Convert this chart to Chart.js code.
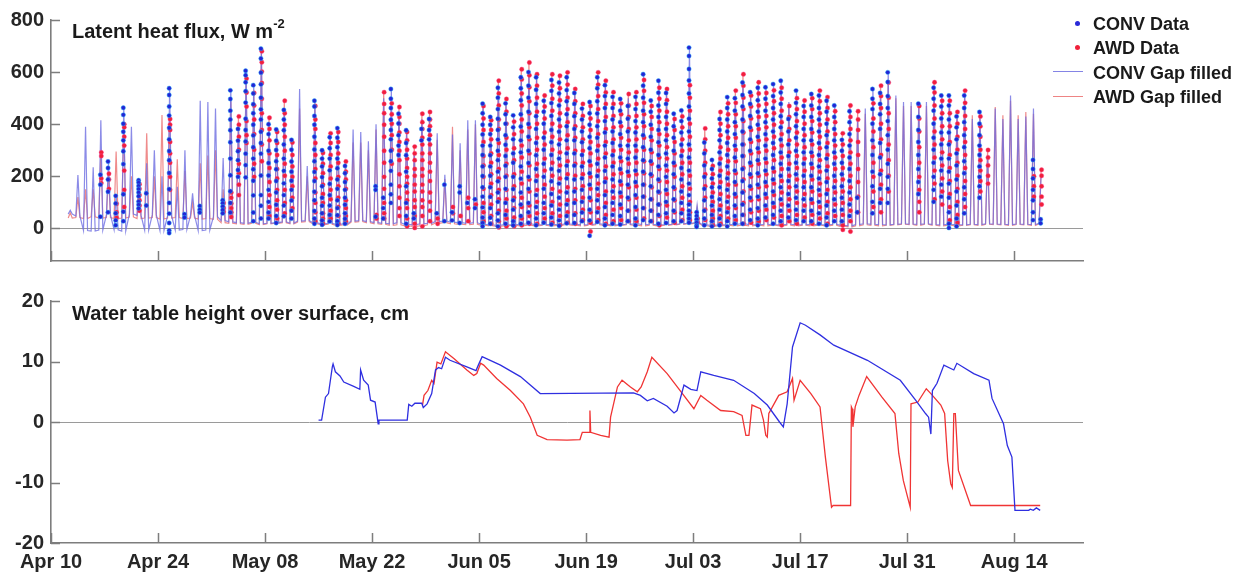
<!DOCTYPE html>
<html>
<head>
<meta charset="utf-8">
<script src="https://cdn.jsdelivr.net/npm/chart.js@4.4.1/dist/chart.umd.min.js"></script>
<style>
  body { margin: 0; background: #fff; font-family: "Liberation Sans", Arial, sans-serif; }
  #wrap { position: relative; width: 1244px; height: 578px; overflow: hidden; }
  canvas { position: absolute; left: 0; }
  .ttl { position: absolute; left: 72px; font-weight: bold; font-size: 20px; line-height: 20px; color: #1a1a1a; white-space: nowrap; }
  .ttl sup { font-size: 13px; position: relative; top: -2px; }
  .lg { position: absolute; left: 1093px; font-weight: bold; font-size: 18px; line-height: 18px; color: #1a1a1a; white-space: nowrap; }
  .mk { position: absolute; width: 5px; height: 5px; border-radius: 50%; }
  .ln { position: absolute; left: 1053px; width: 30px; height: 1px; }
</style>
</head>
<body>
<div id="wrap">
  <canvas id="flux" width="1244" height="280" style="top:0"></canvas>
  <canvas id="wt" width="1244" height="298" style="top:280px"></canvas>

  <div class="ttl" style="top:16px">Latent heat flux, W m<sup>-2</sup></div>
  <div class="ttl" style="top:303px">Water table height over surface, cm</div>

  <div class="mk" style="left:1075px;top:21px;background:#2a2ad8"></div>
  <div class="lg" style="top:15px">CONV Data</div>
  <div class="mk" style="left:1075px;top:45px;background:#f0203a"></div>
  <div class="lg" style="top:39px">AWD Data</div>
  <div class="ln" style="top:71px;background:rgba(110,110,225,0.85)"></div>
  <div class="lg" style="top:64px">CONV Gap filled</div>
  <div class="ln" style="top:96px;background:rgba(235,110,110,0.85)"></div>
  <div class="lg" style="top:88px">AWD Gap filled</div>
</div>

<script>
// x axis: days since Apr 10
const xTickDays = [0, 14, 28, 42, 56, 70, 84, 98, 112, 126];
const xTickLabels = ['Apr 10', 'Apr 24', 'May 08', 'May 22', 'Jun 05', 'Jun 19', 'Jul 03', 'Jul 17', 'Jul 31', 'Aug 14'];
const fluxTicks = [0, 200, 400, 600, 800];
const wtTicks = [-20, -10, 0, 10, 20];

// gap filled latent heat flux: midday peak and night level per day
const convPeak = [
  null, null, 70, 205, 390, 235, 415, 255, 130, 470,
  390, 185, 250, 300, 200, 535, 160, 300, 135, 490,
  485, 460, 270, 535, 390, 610, 550, 690, 400, 380,
  455, 340, 535, 240, 490, 300, 350, 385, 240, 380,
  370, 335, 400, 500, 535, 440, 377, 290, 420, 420,
  365, 206, 360, 327, 415, 415, 479, 428, 540, 480,
  434, 580, 600, 580, 490, 570, 560, 580, 520, 460,
  485, 580, 550, 505, 497, 500, 505, 592, 491, 567,
  520, 440, 453, 694, 90, 330, 263, 420, 504, 500,
  560, 523, 540, 542, 554, 567, 485, 529, 470, 516,
  510, 490, 472, 340, 450, 420, 460, 535, 520, 599,
  510, 485, 485, 479, 485, 540, 510, 510, 430, 510,
  420, 447, 280, 460, 420, 510, 420, 430, 460, 200
];
const awdPeak = [
  null, null, 60, 120, 150, 150, 295, 210, 295, 400,
  200, 170, 365, 200, 435, 420, 265, 220, 100, 250,
  280, 300, 150, 500, 430, 580, 520, 680, 425, 370,
  490, 330, 460, 200, 470, 290, 365, 370, 257, 330,
  330, 300, 380, 523, 480, 466, 370, 314, 440, 447,
  340, 190, 390, 300, 380, 400, 470, 415, 567, 497,
  410, 611, 637, 592, 510, 592, 586, 599, 535, 478,
  470, 599, 567, 523, 480, 516, 523, 570, 470, 540,
  535, 420, 430, 550, 80, 384, 240, 447, 480, 529,
  592, 510, 561, 520, 530, 540, 470, 500, 491, 500,
  529, 504, 450, 365, 472, 450, 440, 500, 548, 560,
  500, 470, 470, 470, 470, 561, 490, 490, 447, 529,
  434, 430, 301, 466, 434, 490, 434, 447, 440, 225
];
const convBase = [
  null, null, 55, 48, -8, -10, -6, 52, -5, -10,
  55, 50, -6, 52, -8, 48, -6, -4, 50, -8,
  -6, 45, 30, 25, 22, 20, 24, 18, 20, 22,
  25, 20, 28, 30, 22, 18, 20, 16, 18, 28,
  30, 26, 22, 20, 18, 22, 16, 14, 18, 20,
  26, 28, 24, 22, 20, 22, 16, 14, 12, 15,
  14, 16, 18, 15, 14, 16, 15, 18, 16, 14,
  15, 18, 16, 14, 15, 16, 18, 15, 16, 14,
  15, 16, 18, 20, 22, 14, 12, 14, 15, 16,
  18, 15, 14, 16, 15, 14, 16, 15, 14, 16,
  15, 14, 16, 12, 10, 15, 18, 16, 15, 14,
  16, 18, 17, 16, 18, 15, 14, 16, 15, 14,
  16, 15, 18, 17, 16, 15, 17, 16, 15, 20
];
const awdBase = [
  null, null, 40, 42, 38, 45, 40, 42, 38, 40,
  44, 38, 40, 42, 36, 40, 42, 38, 40, 36,
  38, 35, 22, 20, 18, 16, 20, 15, 18, 20,
  22, 18, 24, 26, 18, 15, 16, 12, 14, 24,
  26, 22, 18, 16, 12, 14, 10, 8, 10, 14,
  20, 22, 18, 16, 15, 16, 12, 10, 8, 10,
  12, 10, 12, 10, 12, 10, 12, 14, 12, 10,
  12, 14, 12, 10, 12, 14, 12, 10, 12, 10,
  12, 14, 16, 18, 20, 10, 8, 10, 12, 10,
  12, 10, 12, 10, 12, 10, 12, 10, 12, 10,
  12, 10, 12, 8, 6, 10, 14, 12, 10, 12,
  14, 16, 15, 12, 16, 12, 10, 12, 10, 12,
  14, 12, 16, 15, 14, 12, 15, 14, 12, 18
];

// measured half-hourly flux, by day
const convObs = {
  6: [206, 168, 45], 7: [257, 232, 188, 141, 62], 8: [125, 96, 58, 31, 12],
  9: [463, 436, 402, 371, 338, 296, 247, 131, 64, 28],
  11: [185, 176, 163, 151, 138, 124, 103, 91, 77], 12: [135, 88],
  15: [538, 512, 468, 433, 386, 342, 297, 262, 213, 151, 98, 57, 21, -8, -18],
  17: [55, 42], 19: [86, 72, 61], 22: [108, 97, 84, 71, 58],
  23: [530, 497, 452, 418, 377, 331, 268, 204, 143, 98, 61],
  24: [382, 337, 296, 262, 224, 198],
  25: [605, 588, 561, 527, 483, 421, 378, 334, 287, 243, 196],
  26: [550, 518, 477, 442, 398, 357, 312, 268, 227, 183, 127, 61, 28],
  27: [690, 652, 598, 553, 502, 457, 418, 371, 328, 287, 203, 128, 87, 38],
  28: [400, 362, 298, 251, 203, 148, 102, 61, 38],
  29: [380, 337, 301, 258, 227, 182, 138, 91, 48, 21],
  30: [455, 418, 377, 322, 268, 221, 173, 128, 88, 47],
  31: [340, 302, 257, 218, 183, 148, 107, 68, 38],
  34: [490, 468, 432, 398, 352, 303, 258, 217, 182, 141, 108, 67, 38, 18],
  35: [300, 268, 238, 197, 162, 118, 87, 58, 31, 14],
  36: [350, 308, 268, 223, 171, 128, 88, 52, 27],
  37: [385, 348, 312, 268, 231, 188, 152, 108, 78, 51, 28, 13],
  38: [240, 212, 178, 148, 118, 91, 58, 37, 18],
  42: [162, 148, 45], 43: [118, 78, 38],
  44: [535, 498, 462, 417, 378, 342, 298, 258, 221, 168, 131, 98],
  45: [440, 403, 358, 318, 282],
  46: [377, 328, 281, 218, 162, 98, 48, 18],
  47: [58, 38], 48: [382, 338], 49: [420, 378, 342], 50: [58], 51: [168, 28],
  52: [62, 31], 53: [162, 138, 21], 54: [98], 55: [112, 78],
  56: [479, 442, 398, 361, 318, 282, 238, 201, 158, 122, 81, 42, 21, 8],
  57: [428, 398, 362, 318, 281, 238, 202, 158, 121, 78, 41, 18],
  58: [540, 502, 458, 421, 378, 341, 298, 262, 218, 181, 138, 102, 58, 31, 8],
  59: [480, 438, 402, 358, 321, 278, 241, 198, 152, 98, 52, 18],
  60: [434, 388, 342, 288, 252, 198, 151, 108, 72, 28, 12],
  61: [580, 538, 492, 438, 391, 338, 292, 238, 191, 138, 92, 48, 18],
  62: [600, 548, 502, 448, 401, 352, 298, 251, 198, 152, 98, 62, 22],
  63: [580, 532, 478, 431, 382, 328, 281, 228, 182, 128, 82, 38, 12],
  64: [490, 448, 402, 348, 302, 248, 198, 152, 98, 58, 22],
  65: [570, 528, 481, 432, 378, 331, 282, 228, 181, 132, 88, 42, 15],
  66: [560, 518, 472, 418, 371, 322, 268, 221, 172, 118, 72, 31, 10],
  67: [580, 531, 488, 438, 392, 338, 288, 241, 192, 138, 92, 48, 20],
  68: [520, 478, 431, 382, 338, 288, 241, 188, 142, 98, 52, 21],
  69: [460, 418, 372, 331, 282, 238, 192, 148, 102, 61, 28],
  70: [485, 442, 398, 352, 308, 258, 212, 168, 118, 72, 31, -28],
  71: [580, 538, 488, 441, 392, 348, 298, 248, 201, 152, 108, 62, 25],
  72: [550, 508, 462, 412, 368, 318, 272, 221, 178, 128, 82, 38, 12],
  73: [505, 462, 418, 372, 328, 281, 238, 188, 142, 98, 52, 18],
  74: [497, 452, 408, 362, 318, 272, 228, 181, 138, 92, 48, 15],
  75: [470, 421, 372, 318, 268, 218, 168, 118, 68, 28],
  76: [505, 458, 412, 368, 318, 272, 222, 178, 128, 82, 38, 12],
  77: [592, 548, 502, 452, 408, 358, 312, 262, 218, 168, 122, 78, 32],
  78: [491, 448, 398, 352, 302, 258, 208, 162, 112, 68, 28],
  79: [567, 521, 472, 428, 378, 331, 282, 238, 188, 141, 92, 52, 18],
  80: [520, 478, 428, 382, 338, 288, 242, 198, 148, 102, 58, 21],
  81: [440, 392, 348, 298, 252, 208, 158, 112, 68, 28],
  82: [453, 412, 368, 321, 278, 232, 188, 142, 98, 58, 28],
  83: [694, 662, 612, 568, 518, 468, 421, 372, 322, 272, 222, 172, 128, 92, 68, 52, 38, 22],
  84: [62, 48, 35, 22, 12, 6],
  85: [330, 288, 242, 198, 152, 108, 68, 38, 12],
  86: [263, 228, 192, 158, 121, 88, 52, 28, 8],
  87: [420, 378, 338, 292, 248, 202, 158, 112, 72, 38, 12],
  88: [504, 462, 418, 372, 328, 282, 238, 192, 148, 102, 62, 28, 8],
  89: [500, 452, 408, 362, 318, 272, 222, 178, 132, 88, 48, 18],
  90: [560, 512, 468, 418, 372, 322, 278, 228, 182, 138, 92, 52, 18],
  91: [523, 478, 432, 388, 342, 298, 252, 208, 162, 118, 72, 32],
  92: [540, 492, 448, 398, 352, 308, 262, 212, 168, 122, 78, 38, 12],
  93: [542, 498, 452, 408, 362, 318, 268, 222, 178, 132, 88, 42],
  94: [554, 508, 462, 418, 372, 328, 282, 232, 188, 142, 98, 52, 18],
  95: [567, 522, 478, 431, 388, 341, 292, 248, 202, 158, 112, 68, 28],
  96: [420, 372, 322, 278, 228, 182, 132, 88, 42],
  97: [529, 482, 438, 392, 348, 298, 252, 208, 162, 118, 72, 32],
  98: [470, 428, 382, 338, 292, 248, 202, 158, 112, 68, 28],
  99: [516, 472, 428, 382, 338, 292, 248, 202, 158, 112, 68, 28],
  100: [510, 462, 418, 372, 328, 282, 238, 192, 148, 102, 58, 18],
  101: [490, 448, 402, 358, 312, 268, 222, 178, 132, 88, 42, 12],
  102: [472, 428, 382, 338, 292, 248, 202, 158, 112, 68, 28],
  103: [340, 298, 252, 208, 162, 118, 72, 28],
  104: [450, 408, 362, 318, 272, 228, 182, 138, 92, 48],
  105: [118, 62],
  107: [535, 498, 458, 402, 338, 282, 218, 162, 102, 58],
  108: [520, 478, 438, 382, 328, 272, 208, 152, 98],
  109: [599, 562, 508, 462, 412, 358, 302, 248, 198, 152, 98],
  113: [479, 428, 378, 332, 282, 228, 178, 132],
  115: [540, 498, 452, 402, 348, 302, 252, 198, 148, 102],
  116: [510, 468, 422, 368, 322, 268, 222, 168, 122],
  117: [510, 472, 418, 368, 322, 268, 218, 172, 118, 62, 18, 2],
  118: [430, 388, 342, 288, 242, 188, 142, 88, 38, 8],
  119: [510, 462, 408, 358, 312, 258, 212, 158, 112, 58],
  121: [447, 402, 358, 318, 282, 238, 198, 162, 118],
  128: [263, 228, 192, 148, 108, 62, 32],
  129: [35, 20]
};
const awdObs = {
  6: [292, 278, 192, 174], 7: [210, 188, 152], 8: [95, 62, 41],
  9: [400, 388, 352, 318, 222, 148, 82],
  11: [170, 152, 128, 108, 88, 68],
  15: [420, 398, 378, 332, 288, 252, 198, 148],
  22: [98, 78, 64], 23: [138, 118, 96, 78, 62, 44],
  24: [430, 398, 352, 302, 248, 212, 168, 128],
  25: [575, 522, 468, 412, 358, 328],
  26: [520, 472, 418, 362, 302, 248, 198],
  27: [680, 638, 602, 558, 498, 442, 378, 322, 258],
  28: [425, 382, 338, 288, 232, 178, 128, 82, 48],
  29: [370, 328, 282, 228, 192, 148, 108, 72, 38],
  30: [490, 442, 398, 352, 298, 248, 202, 148, 98, 58],
  31: [330, 282, 238, 198, 162, 118, 78],
  34: [470, 418, 382, 328, 282, 228, 192, 138, 98, 62, 28],
  35: [290, 248, 212, 168, 132, 98, 58, 38, 18],
  36: [365, 328, 282, 238, 192, 148, 112, 68, 38],
  37: [370, 332, 288, 252, 198, 162, 118, 82, 48, 18],
  38: [257, 218, 188, 152, 108, 78, 48, 28],
  42: [52, 38],
  43: [523, 478, 442, 398, 352, 298, 252, 198, 152, 98, 58, 38],
  44: [480, 438, 402, 358, 302, 248],
  45: [466, 428, 402, 368, 332, 298, 262, 208, 162, 118, 78, 48],
  46: [370, 338, 302, 268, 232, 198, 172, 138, 108, 78, 38, 8],
  47: [314, 288, 262, 228, 202, 168, 142, 108, 82, 48, 18, 2],
  48: [440, 408, 382, 348, 322, 288, 262, 228, 202, 168, 142, 108, 82, 48, 8],
  49: [447, 418, 392, 358, 322, 288, 252, 218, 182, 138, 102, 68, 28],
  50: [38, 18], 52: [82, 58], 53: [48], 54: [118, 78, 28], 55: [92],
  56: [470, 422, 378, 332, 278, 242, 198, 152, 98, 62, 28],
  57: [415, 378, 342, 288, 252, 208, 172, 128, 92, 48, 18],
  58: [567, 518, 472, 418, 382, 328, 282, 228, 192, 148, 112, 68, 28, 4],
  59: [497, 448, 402, 348, 302, 248, 202, 148, 112, 68, 38, 8],
  60: [410, 362, 308, 262, 208, 162, 118, 78, 42, 8],
  61: [611, 572, 518, 472, 418, 372, 318, 272, 218, 172, 118, 82, 38, 12],
  62: [637, 588, 542, 488, 442, 388, 342, 288, 242, 188, 142, 88, 48, 18],
  63: [592, 548, 502, 448, 402, 348, 302, 248, 202, 148, 102, 58, 18],
  64: [510, 468, 422, 368, 322, 268, 222, 168, 122, 78, 38],
  65: [592, 548, 498, 452, 402, 352, 302, 252, 202, 152, 102, 58, 22],
  66: [586, 538, 492, 442, 392, 342, 292, 242, 192, 142, 92, 48, 12],
  67: [599, 552, 502, 458, 408, 358, 308, 258, 208, 158, 108, 62, 22],
  68: [535, 488, 442, 392, 348, 298, 248, 202, 152, 108, 58, 18],
  69: [478, 432, 388, 342, 298, 252, 208, 162, 118, 72, 32],
  70: [470, 422, 378, 332, 288, 242, 198, 152, 108, 62, 22, -12],
  71: [599, 552, 508, 458, 412, 362, 318, 268, 222, 172, 128, 78, 32],
  72: [567, 522, 478, 428, 382, 332, 288, 238, 192, 142, 98, 52, 18],
  73: [523, 478, 432, 388, 342, 298, 252, 208, 162, 118, 72, 28],
  74: [480, 438, 392, 348, 302, 258, 212, 168, 122, 78, 32],
  75: [516, 472, 428, 382, 338, 292, 248, 202, 158, 112, 68, 28],
  76: [523, 478, 432, 388, 342, 298, 252, 208, 162, 118, 72, 28],
  77: [570, 528, 482, 438, 392, 348, 302, 258, 212, 168, 122, 78, 38],
  78: [470, 428, 382, 338, 292, 248, 202, 158, 112, 68, 28],
  79: [540, 498, 452, 408, 362, 318, 272, 228, 182, 138, 92, 48, 12],
  80: [535, 492, 448, 402, 358, 312, 268, 222, 178, 132, 88, 42],
  81: [420, 378, 332, 288, 242, 198, 152, 108, 62, 22],
  82: [430, 388, 342, 298, 252, 208, 162, 118, 72, 32],
  83: [550, 502, 452, 402, 352, 302, 252, 202, 152, 102, 62, 32],
  84: [38, 22],
  85: [384, 342, 298, 252, 208, 162, 118, 72, 32],
  86: [240, 208, 172, 138, 102, 68, 38, 12],
  87: [447, 402, 358, 312, 268, 222, 178, 132, 88, 48, 18],
  88: [480, 438, 392, 348, 302, 258, 212, 168, 122, 78, 38],
  89: [529, 482, 438, 392, 348, 302, 258, 212, 168, 122, 78, 32],
  90: [592, 548, 502, 458, 412, 368, 322, 278, 232, 188, 142, 98, 52, 18],
  91: [510, 468, 422, 378, 332, 288, 242, 198, 152, 108, 62, 22],
  92: [561, 518, 472, 428, 382, 338, 292, 248, 202, 158, 112, 68, 28],
  93: [520, 478, 432, 388, 342, 298, 252, 208, 162, 118, 72, 32],
  94: [530, 488, 442, 398, 352, 308, 262, 218, 172, 128, 82, 42],
  95: [540, 498, 452, 408, 362, 318, 272, 228, 182, 138, 92, 48, 12],
  96: [470, 428, 382, 338, 292, 248, 202, 158, 112, 68, 28],
  97: [500, 458, 412, 368, 322, 278, 232, 188, 142, 98, 52, 18],
  98: [491, 448, 402, 358, 312, 268, 222, 178, 132, 88, 42],
  99: [500, 458, 412, 368, 322, 278, 232, 188, 142, 98, 52, 18],
  100: [529, 488, 442, 398, 352, 308, 262, 218, 172, 128, 82, 38],
  101: [504, 462, 418, 372, 328, 282, 238, 192, 148, 102, 58, 18],
  102: [450, 408, 362, 318, 272, 228, 182, 138, 92, 48],
  103: [365, 322, 278, 232, 188, 142, 98, 52, 12, -5],
  104: [472, 428, 382, 338, 292, 248, 202, 158, 112, 68, 28, -12],
  105: [450, 418, 378, 332, 282, 228, 178, 122, 62],
  107: [480, 422, 372, 312, 252, 198, 142, 82],
  108: [548, 508, 462, 402, 342, 282, 222, 168, 112, 62],
  109: [560, 502, 442, 382, 322, 262, 202, 142],
  113: [470, 422, 372, 312, 252, 198, 148, 102, 62],
  115: [561, 522, 472, 422, 372, 322, 272, 222, 172, 112],
  116: [490, 442, 392, 342, 292, 242, 192, 142, 92],
  117: [490, 442, 392, 332, 282, 232, 182, 132, 82, 32],
  118: [447, 402, 352, 302, 252, 202, 152, 102, 52, 22],
  119: [529, 482, 432, 382, 332, 282, 232, 182, 132, 82],
  121: [430, 392, 352, 302, 262, 222, 182, 142],
  122: [301, 272, 242, 202, 172],
  128: [200, 162, 122],
  129: [225, 202, 162, 122, 92]
};

// water table height (cm), day and value
const convWtDay = [35.0, 35.4, 35.9, 36.3, 36.8, 36.9, 37.2, 37.8, 38.3, 39.6, 40.4, 40.5, 40.9, 41.5, 41.8, 42.4, 42.8, 42.9, 46.6, 46.8,
  47.2, 47.6, 48.5, 48.7, 49.2, 49.8, 50.3, 50.7, 51.1, 51.6, 52.2, 54.4, 55.6, 55.9, 56.4, 58.8, 61.4, 64.0, 76.2, 77.1,
  78.0, 78.8, 80.6, 81.5, 81.9, 82.8, 83.7, 84.5, 85.0, 86.7, 89.3, 92.0, 93.7, 95.3, 95.8, 96.3, 97.0, 98.0, 98.7, 100.6,
  102.4, 106.8, 111.1, 113.1, 114.4, 114.8, 115.1, 115.3, 115.9, 116.8, 118.1, 118.5, 120.7, 122.7, 123.1, 124.6, 125.1, 125.7, 125.9, 126.1,
  127.9, 128.1, 128.5, 128.9, 129.4];
const convWt = [0.3, 0.3, 4.1, 4.7, 9.1, 9.6, 8.3, 7.6, 6.6, 5.9, 5.4, 8.6, 6.9, 6.1, 3.6, 3.3, -0.3, 0.3, 0.3, 2.9,
  2.6, 3.1, 3.1, 2.4, 3.0, 4.7, 8.6, 9.0, 8.8, 10.7, 10.2, 9.1, 8.5, 9.4, 10.8, 9.4, 7.5, 4.7, 4.8, 4.4,
  3.5, 3.9, 2.6, 1.5, 1.9, 6.1, 5.4, 5.2, 8.3, 7.7, 6.9, 4.7, 2.8, 0.0, -0.8, 3.0, 12.4, 16.4, 16.0, 14.4,
  12.7, 10.2, 6.9, 3.6, 1.4, 0.8, -2.0, 5.2, 6.4, 9.4, 8.6, 9.7, 8.0, 6.9, 3.9, -0.3, -3.9, -5.8, -10.2, -14.6,
  -14.6, -14.4, -14.6, -14.2, -14.6];
const awdWtDay = [48.6, 48.8, 49.3, 49.8, 50.1, 50.5, 51.0, 51.6, 52.7, 54.4, 55.3, 55.7, 56.2, 56.6, 58.3, 60.1, 61.8, 62.7, 63.6, 64.9,
  67.5, 69.2, 69.5, 70.4, 70.5, 70.6, 71.9, 73.0, 73.2, 74.1, 74.7, 75.8, 76.7, 77.2, 78.0, 78.6, 80.6, 82.3, 84.1, 85.0,
  85.8, 87.6, 89.3, 90.4, 90.9, 91.3, 91.7, 92.8, 93.2, 93.5, 93.7, 93.9, 95.2, 96.3, 97.0, 97.2, 98.0, 99.4, 100.6, 101.3,
  102.1, 102.3, 104.6, 104.7, 104.8, 104.9, 105.2, 105.7, 106.7, 108.7, 110.4, 110.9, 111.5, 112.4, 112.5, 113.4, 114.5, 115.1, 116.4, 116.9,
  117.3, 117.7, 117.9, 118.1, 118.3, 118.7, 120.3, 129.4];
const awdWt = [2.8, 4.4, 5.2, 6.9, 6.4, 9.9, 9.6, 11.6, 10.5, 8.6, 7.7, 8.0, 9.7, 9.4, 7.2, 5.2, 3.0, 0.8, -2.2, -2.9,
  -3.0, -2.9, -1.7, -1.7, 1.9, -1.7, -2.2, -2.5, 0.8, 5.8, 6.9, 5.8, 5.0, 5.8, 8.3, 10.7, 8.0, 5.2, 2.2, 4.4,
  3.6, 1.9, 1.7, 1.1, -2.2, -2.2, 2.8, 2.2, 0.3, -2.2, -2.5, 1.4, 4.4, 5.0, 7.2, 3.6, 6.9, 4.7, 2.5, -5.8,
  -14.1, -13.8, -13.8, 2.5, 2.2, -0.8, 2.5, 4.4, 7.5, 4.1, 1.4, -5.2, -9.7, -14.1, 3.0, 3.3, 5.5, 4.7, 2.8, 1.4,
  -6.4, -10.2, -10.8, 1.4, 1.4, -8.0, -13.8, -13.8];

const axisColor = '#7d7d7d';
const tickFont = { family: '"Liberation Sans", Arial, sans-serif', size: 20, weight: 'bold' };

// one daily spike per day: night level, midday peak, night level
function spikes(peak, base) {
  const pts = [];
  const last = peak.length - 1;
  peak.forEach((p, d) => {
    if (p === null) return;
    pts.push({ x: d + 0.25, y: base[d] }, { x: d + 0.52, y: p });
    if (d < last) pts.push({ x: d + 0.78, y: base[d] });
  });
  return pts;
}
function dots(obs, at) {
  const pts = [];
  Object.keys(obs).forEach(k => obs[k].forEach(v => pts.push({ x: +k + at, y: v })));
  return pts;
}
function pairs(xs, ys) {
  return xs.map((x, i) => ({ x: x, y: ys[i] }));
}

// MATLAB style inward ticks
const inTicks = {
  id: 'inTicks',
  afterDraw(chart) {
    const { ctx, chartArea: a, scales } = chart;
    ctx.save();
    ctx.strokeStyle = axisColor;
    ctx.lineWidth = 1.5;
    ctx.beginPath();
    scales.x.ticks.forEach(t => {
      const px = Math.round(scales.x.getPixelForValue(t.value)) + 0.5;
      ctx.moveTo(px, a.bottom); ctx.lineTo(px, a.bottom - 10);
    });
    scales.y.ticks.forEach(t => {
      const py = Math.round(scales.y.getPixelForValue(t.value)) + 0.5;
      ctx.moveTo(a.left, py); ctx.lineTo(a.left + 9, py);
    });
    ctx.stroke();
    ctx.restore();
  }
};

function xScale(showLabels, h) {
  return {
    type: 'linear', min: 0, max: 135,
    afterBuildTicks: s => { s.ticks = xTickDays.map(v => ({ value: v })); },
    afterFit: s => { s.height = h; },
    grid: { display: false, drawTicks: false },
    border: { display: true, color: axisColor, width: 1.6 },
    ticks: {
      display: showLabels, padding: 7, color: '#262626', font: tickFont, maxRotation: 0,
      callback: v => xTickLabels[xTickDays.indexOf(v)]
    }
  };
}
function yScale(min, max, ticks) {
  return {
    type: 'linear', min: min, max: max,
    afterBuildTicks: s => { s.ticks = ticks.map(v => ({ value: v })); },
    afterFit: s => { s.width = 51; },
    grid: { drawTicks: false, lineWidth: 1, color: c => c.tick && c.tick.value === 0 ? '#9a9a9a' : 'rgba(0,0,0,0)' },
    border: { display: true, color: axisColor, width: 1.6 },
    ticks: { padding: 7, color: '#262626', font: tickFont }
  };
}

const common = {
  responsive: false,
  animation: false,
  events: [],
  plugins: { legend: { display: false }, tooltip: { enabled: false } }
};

new Chart(document.getElementById('flux'), {
  type: 'scatter',
  data: {
    datasets: [
      { label: 'CONV Data', data: dots(convObs, 0.46), order: 0, pointRadius: 2.2, pointBackgroundColor: '#2424d4', pointBorderColor: 'rgba(40,190,255,0.55)', pointBorderWidth: 0.8 },
      { label: 'AWD Data', data: dots(awdObs, 0.58), order: 1, pointRadius: 2.2, pointBackgroundColor: '#f0203a', pointBorderColor: 'rgba(255,70,150,0.5)', pointBorderWidth: 0.8 },
      { label: 'CONV Gap filled', data: spikes(convPeak, convBase), order: 2, showLine: true, pointRadius: 0, borderWidth: 1.2, borderColor: 'rgba(110,110,225,0.8)' },
      { label: 'AWD Gap filled', data: spikes(awdPeak, awdBase), order: 3, showLine: true, pointRadius: 0, borderWidth: 1.2, borderColor: 'rgba(235,110,110,0.8)' }
    ]
  },
  options: Object.assign({}, common, {
    layout: { padding: { left: 0, right: 161, top: 20, bottom: 0 } },
    scales: { x: xScale(false, 18), y: yScale(-125, 800, fluxTicks) }
  }),
  plugins: [inTicks]
});

new Chart(document.getElementById('wt'), {
  type: 'scatter',
  data: {
    datasets: [
      { label: 'CONV', data: pairs(convWtDay, convWt), order: 0, showLine: true, pointRadius: 0, borderWidth: 1.3, borderColor: '#2f2fe0' },
      { label: 'AWD', data: pairs(awdWtDay, awdWt), order: 1, showLine: true, pointRadius: 0, borderWidth: 1.3, borderColor: '#f03434' }
    ]
  },
  options: Object.assign({}, common, {
    layout: { padding: { left: 0, right: 161, top: 21, bottom: 0 } },
    scales: { x: xScale(true, 35), y: yScale(-20, 20, wtTicks) }
  }),
  plugins: [inTicks]
});
</script>
</body>
</html>
